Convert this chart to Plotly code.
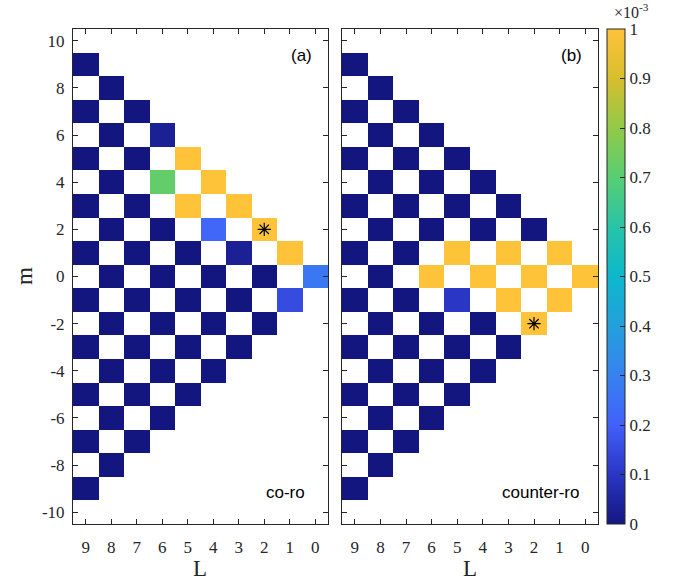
import numpy as np
import plotly.graph_objects as go

# ---- data ----
L_values = list(range(0, 10))          # degree L
m_values = list(range(-10, 11))        # order m
x_ticks = [9, 8, 7, 6, 5, 4, 3, 2, 1, 0]
y_ticks = [10, 8, 6, 4, 2, 0, -2, -4, -6, -8, -10]
cbar_ticks = [0, 0.1, 0.2, 0.3, 0.4, 0.5, 0.6, 0.7, 0.8, 0.9, 1.0]

# non-zero cells (values in units of 1e-3); every other valid cell is 0
coro_L =   [6,   5,   6,    4,   5,   3,   4,    2,   3,    1,   0,    1]
coro_m =   [6,   5,   4,    4,   3,   3,   2,    2,   1,    1,   0,   -1]
coro_val = [0.03, 1.0, 0.72, 1.0, 1.0, 1.0, 0.22, 1.0, 0.03, 1.0, 0.27, 0.15]

counter_L =   [5,   3,   1,   6,   4,   2,   0,   5,    3,   1,    2]
counter_m =   [1,   1,   1,   0,   0,   0,   0,  -1,   -1,  -1,   -2]
counter_val = [1.0, 1.0, 1.0, 1.0, 1.0, 1.0, 1.0, 0.10, 1.0, 1.0, 1.0]

star_coro = (2, 2)
star_counter = (2, -2)


def build_grid(Ls, ms, vals):
    z = np.full((len(m_values), len(L_values)), np.nan)
    for j, L in enumerate(L_values):
        for i, m in enumerate(m_values):
            if abs(m) <= L and (L + m) % 2 == 0:
                z[i, j] = 0.0
    for L, m, v in zip(Ls, ms, vals):
        z[m_values.index(m), L_values.index(L)] = v
    return z


colorscale = [
    [0.0, 'rgb(20,22,128)'], [0.1, 'rgb(42,54,196)'], [0.2, 'rgb(66,96,250)'],
    [0.3, 'rgb(55,130,240)'], [0.4, 'rgb(35,160,220)'], [0.5, 'rgb(12,184,204)'],
    [0.6, 'rgb(40,196,168)'], [0.7, 'rgb(88,206,115)'], [0.8, 'rgb(145,202,72)'],
    [0.9, 'rgb(215,190,45)'], [1.0, 'rgb(255,195,58)'],
]

W, H = 685, 582
fig = go.Figure()

serif = "Liberation Serif, Times New Roman, serif"
sans = "Liberation Sans, Arial, sans-serif"
ink = '#262626'

TOP, BOT = 29, 524

fig.add_trace(go.Heatmap(
    x=L_values, y=m_values, z=build_grid(coro_L, coro_m, coro_val),
    zmin=0, zmax=1, colorscale=colorscale, showscale=True,
    xaxis='x', yaxis='y', hoverongaps=False,
    colorbar=dict(
        x=607 / W, xanchor='left', y=1 - TOP / H, yanchor='top',
        len=(BOT - TOP) / H, lenmode='fraction', thickness=18, thicknessmode='pixels',
        outlinewidth=1, outlinecolor=ink,
        tickvals=cbar_ticks, ticktext=[f"{t:g}" for t in cbar_ticks],
        ticks='inside', ticklen=5, tickcolor=ink,
        tickfont=dict(family=serif, size=17, color=ink),
        xpad=0, ypad=0,
    ),
))
fig.add_trace(go.Heatmap(
    x=L_values, y=m_values, z=build_grid(counter_L, counter_m, counter_val),
    zmin=0, zmax=1, colorscale=colorscale, showscale=False,
    xaxis='x2', yaxis='y2', hoverongaps=False,
))

fig.add_trace(go.Scatter(
    x=[star_coro[0]], y=[star_coro[1]], mode='markers', xaxis='x', yaxis='y',
    marker=dict(symbol='asterisk-open', size=11, color='black',
                line=dict(color='black', width=1.2)), showlegend=False))
fig.add_trace(go.Scatter(
    x=[star_counter[0]], y=[star_counter[1]], mode='markers', xaxis='x2', yaxis='y2',
    marker=dict(symbol='asterisk-open', size=11, color='black',
                line=dict(color='black', width=1.2)), showlegend=False))

ydom = [1 - BOT / H, 1 - TOP / H]
common_x = dict(range=[9.5, -0.5], tickvals=x_ticks, ticktext=[str(t) for t in x_ticks],
                ticks='inside', ticklen=5, tickcolor=ink, showline=True,
                linecolor=ink, linewidth=1, mirror='ticks', showgrid=False,
                zeroline=False, ticklabelstandoff=8,
                tickfont=dict(family=serif, size=17, color=ink))
common_y = dict(range=[-10.5, 10.5], tickvals=y_ticks,
                ticks='inside', ticklen=5, tickcolor=ink, showline=True,
                linecolor=ink, linewidth=1, mirror='ticks', showgrid=False,
                zeroline=False, ticklabelstandoff=4,
                tickfont=dict(family=serif, size=17, color=ink))

fig.update_layout(
    width=W, height=H, margin=dict(l=0, r=0, t=0, b=0),
    paper_bgcolor='white', plot_bgcolor='white', showlegend=False,
    xaxis=dict(domain=[73 / W, 328 / W], anchor='y', **common_x),
    yaxis=dict(domain=ydom, anchor='x', ticktext=[str(t) for t in y_ticks], **common_y),
    xaxis2=dict(domain=[342 / W, 598 / W], anchor='y2', **common_x),
    yaxis2=dict(domain=ydom, anchor='x2', showticklabels=False, **common_y),
)

ann = [
    dict(text="(a)", x=301 / W, y=1 - 55 / H, font=dict(family=sans, size=17, color='black')),
    dict(text="co-ro", x=285 / W, y=1 - 492 / H, font=dict(family=sans, size=17, color='black')),
    dict(text="(b)", x=571 / W, y=1 - 55 / H, font=dict(family=sans, size=17, color='black')),
    dict(text="counter-ro", x=540 / W, y=1 - 492 / H, font=dict(family=sans, size=17, color='black')),
    dict(text="L", x=200 / W, y=1 - 568 / H, font=dict(family=serif, size=23, color=ink)),
    dict(text="L", x=470 / W, y=1 - 568 / H, font=dict(family=serif, size=23, color=ink)),
    dict(text="m", x=24 / W, y=1 - 276 / H, textangle=-90, font=dict(family=serif, size=23, color=ink)),
    dict(text="×10<sup>-3</sup>", x=631 / W, y=1 - 11 / H, font=dict(family=serif, size=16, color=ink)),
]
for a in ann:
    fig.add_annotation(xref='paper', yref='paper', showarrow=False,
                       xanchor='center', yanchor='middle', **a)

fig.write_html("out.html", config={"displayModeBar": False},
               post_script="document.body.style.margin='0';")
